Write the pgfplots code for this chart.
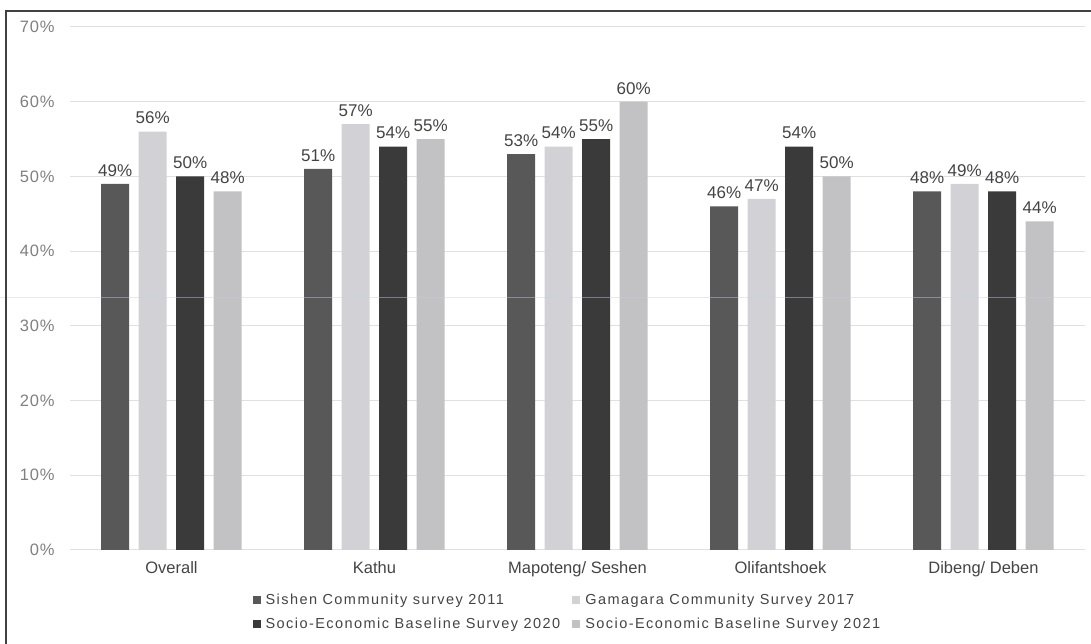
\documentclass[border=0pt]{standalone}
\usepackage{pgfplots}
\pgfplotsset{compat=1.18}
\usepackage{fontspec}
\setmainfont{Liberation Sans}
\definecolor{sA}{HTML}{585858}
\definecolor{sB}{HTML}{D2D2D6}
\definecolor{sC}{HTML}{3A3A3A}
\definecolor{sD}{HTML}{C2C2C4}
\definecolor{txt}{HTML}{444444}
\definecolor{tick}{HTML}{808080}
\begin{document}
\begin{tikzpicture}[x=1pt,y=1pt]
\path[use as bounding box] (0,0) rectangle (1091,644);
\begin{axis}[
  at={(70pt,94pt)}, anchor=south west,
  scale only axis, width=1015pt, height=523pt,
  ybar=9.5pt, bar width=28pt,
  xmin=-0.5, xmax=4.5, ymin=0, ymax=70,
  xtick={0,1,2,3,4},
  xticklabels={Overall, Kathu, Mapoteng/ Seshen, Olifantshoek, Dibeng/ Deben},
  ytick={0,10,20,30,40,50,60,70},
  yticklabel={\pgfmathprintnumber{\tick}\%},
  /pgf/number format/assume math mode=true,
  yticklabel style={font=\fontsize{16.5}{18}\selectfont\addfontfeature{LetterSpace=5}, text=tick, xshift=-12pt},
  xticklabel style={font=\fontsize{16.5}{18}\selectfont, text=txt, yshift=-8pt},
  major tick length=0pt,
  axis line style={draw=none},
  ymajorgrids, grid style={draw=black!12, line width=1pt},
  nodes near coords={\pgfmathprintnumber{\pgfplotspointmeta}\%},
  nodes near coords style={font=\fontsize{17}{19}\selectfont, text=txt, yshift=4pt},
  legend columns=2,
  legend cell align=left,
  legend style={draw=none, fill=none, at={(0.49,-0.119)}, anchor=center,
    font=\fontsize{14.5}{17}\selectfont\addfontfeature{LetterSpace=10}, text=txt, row sep=8pt,
    inner sep=0pt,
    /tikz/every odd column/.append style={column sep=3pt},
    /tikz/every even column/.append style={column sep=10pt}},
  legend image code/.code={\fill[#1] (0pt,-4pt) rectangle (8pt,4pt);},
  clip=false,
]
\addplot[fill=sA, draw=none] coordinates {(0,49) (1,51) (2,53) (3,46) (4,48)};
\addplot[fill=sB, draw=none] coordinates {(0,56) (1,57) (2,54) (3,47) (4,49)};
\addplot[fill=sC, draw=none] coordinates {(0,50) (1,54) (2,55) (3,54) (4,48)};
\addplot[fill=sD, draw=none] coordinates {(0,48) (1,55) (2,60) (3,50) (4,44)};
\legend{Sishen Community survey 2011, Gamagara Community Survey 2017, Socio-Economic Baseline Survey 2020, Socio-Economic Baseline Survey 2021}
\end{axis}
\draw[color={rgb,255:red,190;green,210;blue,230}, opacity=0.45, line width=1pt] (0,346) -- (1091,346);
\draw[color=black!75, line width=2pt] (6,0) -- (6,633) -- (1091,633);
\end{tikzpicture}
\end{document}
